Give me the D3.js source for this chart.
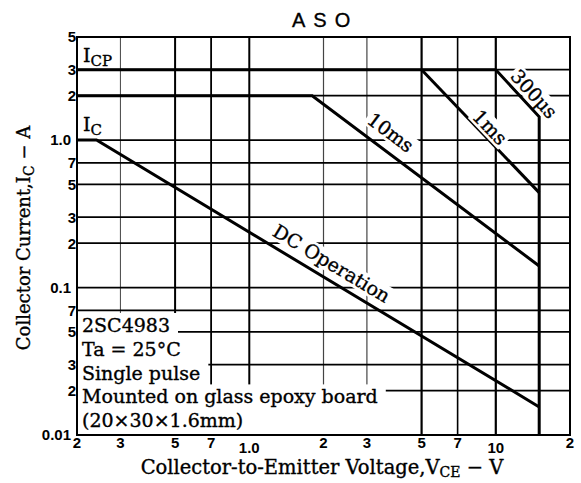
<!DOCTYPE html>
<html>
<head>
<meta charset="utf-8">
<script src="https://cdn.jsdelivr.net/npm/d3@7"></script>
<style>
  body { margin: 0; background: #fff; }
  text { fill: #000; }
  .ink { stroke: #000; stroke-width: 0.35px; }
</style>
</head>
<body>
<script>
    // tick positions and their printed labels
    var xTicks = [0.2, 0.3, 0.5, 0.7, 1, 2, 3, 5, 7, 10, 20];
    var xTickLabels = ["2", "3", "5", "7", "1.0", "2", "3", "5", "7", "10", "2"];
    var yTicks = [5, 3, 2, 1, 0.7, 0.5, 0.3, 0.2, 0.1, 0.07, 0.05, 0.03, 0.02, 0.01];
    var yTickLabels = ["5", "3", "2", "1.0", "7", "5", "3", "2", "0.1", "7", "5", "3", "2", "0.01"];

    // grid lines
    var gridV = [0.3, 0.5, 0.7, 1, 2, 3, 5, 7, 10];
    var gridH = [3, 2, 1, 0.7, 0.5, 0.3, 0.2, 0.1, 0.07, 0.05, 0.03, 0.02];

    // safe operating area boundaries, [V, A]
    var icp = [[0.2, 3], [10, 3]];
    var ms10 = [[0.2, 2], [1.8, 2], [15, 0.14]];
    var ms1 = [[5, 3], [15, 0.44]];
    var us300 = [[10, 3], [15, 1.44], [15, 0.01]];
    var dc = [[0.2, 1], [0.24, 1], [15, 0.0155]];

    var notes = ["2SC4983", "Ta = 25°C", "Single pulse", "Mounted on glass epoxy board", "(20×30×1.6mm)"];

    var margin = { top: 37, right: 11, bottom: 48, left: 77 },
        width = 581 - margin.left - margin.right,
        height = 483 - margin.top - margin.bottom;

    var serif = "'DejaVu Serif', serif";
    var sans = "'Liberation Sans', Arial, sans-serif";

    var root = d3.select("body").append("svg")
        .attr("width", 581)
        .attr("height", 483);

    var svg = root.append("g")
        .attr("transform", "translate(" + margin.left + "," + margin.top + ")");

    var x = d3.scaleLog().domain([0.2, 20]).range([0, width]);
    var y = d3.scaleLog().domain([0.01, 5]).range([height, 0]);

    // thicker lines as in the printed sheet
    var vWidth = { 0.3: 1, 0.5: 2, 0.7: 1.8, 1: 2, 2: 1.2, 3: 1.2, 5: 2.2, 7: 1.6, 10: 2.2 };

    svg.append("g").selectAll("line")
        .data(gridV)
        .enter().append("line")
        .attr("x1", d => x(d)).attr("x2", d => x(d))
        .attr("y1", 0).attr("y2", height)
        .attr("stroke", d => vWidth[d] < 1.5 ? "#444" : "#000")
        .attr("stroke-width", d => vWidth[d]);

    svg.append("g").selectAll("line")
        .data(gridH)
        .enter().append("line")
        .attr("x1", 0).attr("x2", width)
        .attr("y1", d => y(d)).attr("y2", d => y(d))
        .attr("stroke", "#000")
        .attr("stroke-width", 1.8);

    // notes block, with white backing that hides the grid
    var noteG = svg.append("g");
    var noteTop = 295, lineH = 23.8;
    var texts = noteG.selectAll("text")
        .data(notes)
        .enter().append("text")
        .attr("class", "ink")
        .attr("x", 5)
        .attr("y", (d, i) => noteTop + i * lineH)
        .style("font-family", serif)
        .style("font-size", "19px")
        .text(d => d);
    var maxR = 0;
    texts.each(function (d, i) {
        var bb = this.getBBox();
        maxR = Math.max(maxR, bb.x + bb.width);
        var top = noteTop + i * lineH - 19;
        var bot = i == notes.length - 1 ? height : noteTop + i * lineH + 6;
        noteG.insert("rect", "text")
            .attr("x", 0).attr("y", top)
            .attr("width", maxR + 8).attr("height", bot - top)
            .attr("fill", "#fff");
    });

    // curves
    var line = d3.line().x(d => x(d[0])).y(d => y(d[1]));
    [icp, ms10, ms1, us300, dc].forEach(function (c) {
        svg.append("path")
            .attr("d", line(c))
            .attr("fill", "none")
            .attr("stroke", "#000")
            .attr("stroke-width", 3)
            .attr("stroke-linejoin", "miter");
    });

    // label sitting on a segment
    function lineLabel(txt, p0, p1, v, off) {
        var x0 = x(p0[0]), y0 = y(p0[1]), x1 = x(p1[0]), y1 = y(p1[1]);
        var ang = Math.atan2(y1 - y0, x1 - x0) * 180 / Math.PI;
        var t = (Math.log(v) - Math.log(p0[0])) / (Math.log(p1[0]) - Math.log(p0[0]));
        var px = x0 + t * (x1 - x0), py = y0 + t * (y1 - y0);
        var g = svg.append("g")
            .attr("transform", "translate(" + px + "," + py + ") rotate(" + ang + ")");
        var tx = g.append("text")
            .attr("class", "ink")
            .attr("y", -off)
            .attr("text-anchor", "middle")
            .style("font-family", serif)
            .style("font-size", "19px")
            .text(txt);
        var bb = tx.node().getBBox();
        g.insert("rect", "text")
            .attr("x", bb.x - 2).attr("y", bb.y + 1)
            .attr("width", bb.width + 4).attr("height", bb.height - 2)
            .attr("fill", "#fff");
    }

    lineLabel("10ms", ms10[1], ms10[2], 3.39, 11);
    lineLabel("1ms", ms1[0], ms1[1], 8.87, 3);
    lineLabel("300μs", us300[0], us300[1], 13.2, 5);
    lineLabel("DC Operation", dc[1], dc[2], 2.0, 9);

    // I_CP and I_C tags
    function subLabel(g, main, sub) {
        g.append("tspan").text(main);
        g.append("tspan").attr("dy", 4).style("font-size", "15px").text(sub);
    }
    subLabel(svg.append("text").attr("class", "ink").attr("x", 6).attr("y", y(3) - 8)
        .style("font-family", serif).style("font-size", "19px"), "I", "CP");
    subLabel(svg.append("text").attr("class", "ink").attr("x", 6).attr("y", y(1) - 9)
        .style("font-family", serif).style("font-size", "19px"), "I", "C");

    // frame
    svg.append("rect")
        .attr("width", width).attr("height", height)
        .attr("fill", "none")
        .attr("stroke", "#000")
        .attr("stroke-width", 2);

    // y tick labels
    svg.append("g").selectAll("text")
        .data(yTicks)
        .enter().append("text")
        .attr("x", (d, i) => yTickLabels[i].length > 1 ? -6 : -1)
        .attr("y", d => y(d))
        .attr("dy", "0.36em")
        .attr("text-anchor", "end")
        .style("font-family", sans)
        .style("font-size", "15px")
        .style("font-weight", "bold")
        .text((d, i) => yTickLabels[i]);

    // x tick labels
    svg.append("g").selectAll("text")
        .data(xTicks)
        .enter().append("text")
        .attr("x", d => x(d))
        .attr("y", (d, i) => height + (xTickLabels[i].length > 1 ? 18 : 13))
        .attr("text-anchor", "middle")
        .style("font-family", sans)
        .style("font-size", "15px")
        .style("font-weight", "bold")
        .text((d, i) => xTickLabels[i]);

    // title
    root.append("text")
        .attr("class", "ink")
        .attr("x", 292).attr("y", 27)
        .style("font-family", sans)
        .style("font-size", "20px")
        .style("letter-spacing", "8px")
        .text("ASO");

    // axis titles
    var xt = root.append("text")
        .attr("class", "ink")
        .attr("x", 322).attr("y", 474)
        .attr("text-anchor", "middle")
        .style("font-family", serif)
        .style("font-size", "19.5px");
    xt.append("tspan").text("Collector-to-Emitter Voltage,V");
    xt.append("tspan").attr("dy", 3).style("font-size", "14px").text("CE");
    xt.append("tspan").attr("dy", -3).text(" − V");

    var yt = root.append("text")
        .attr("class", "ink")
        .attr("transform", "translate(30,238) rotate(-90)")
        .attr("text-anchor", "middle")
        .style("font-family", serif)
        .style("font-size", "18px");
    yt.append("tspan").text("Collector Current,I");
    yt.append("tspan").attr("dy", 4).style("font-size", "14px").text("C");
    yt.append("tspan").attr("dy", -4).text(" − A");
</script>
</body>
</html>
